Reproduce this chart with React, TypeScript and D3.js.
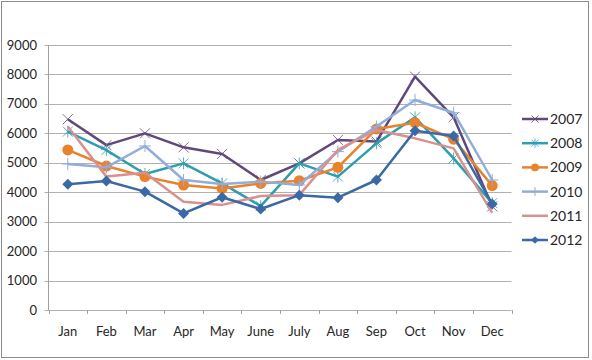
import React, { useEffect, useRef } from 'react';
import * as d3 from 'd3';

const months = ['Jan', 'Feb', 'Mar', 'Apr', 'May', 'June', 'July', 'Aug', 'Sep', 'Oct', 'Nov', 'Dec'];
const yTicks = [0, 1000, 2000, 3000, 4000, 5000, 6000, 7000, 8000, 9000];

const s2007 = [6480, 5600, 6000, 5525, 5300, 4415, 4980, 5775, 5720, 7925, 6545, 3520];
const s2008 = [6060, 5430, 4620, 4980, 4300, 3530, 4980, 4530, 5660, 6545, 5150, 3630];
const s2009 = [5435, 4890, 4530, 4245, 4130, 4300, 4390, 4845, 6150, 6360, 5800, 4225];
const s2010 = [4960, 4845, 5570, 4415, 4280, 4360, 4245, 5380, 6230, 7130, 6700, 4415];
const s2011 = [6230, 4530, 4665, 3680, 3570, 3870, 3900, 5435, 6115, 5830, 5490, 3300];
const s2012 = [4270, 4380, 4020, 3280, 3830, 3430, 3900, 3815, 4415, 6090, 5910, 3600];

const series = [
  { name: '2007', values: s2007, color: '#60497a', marker: 'x' },
  { name: '2008', values: s2008, color: '#2f9db0', marker: 'star' },
  { name: '2009', values: s2009, color: '#e8822d', marker: 'circle' },
  { name: '2010', values: s2010, color: '#93acd8', marker: 'plus' },
  { name: '2011', values: s2011, color: '#d8918f', marker: 'none' },
  { name: '2012', values: s2012, color: '#3a69a6', marker: 'diamond' },
];

// marker shapes, k scales the size (legend uses smaller ones)
function drawMarker(g: any, type: string, x: number, y: number, color: string, k = 1) {
  const a = 5 * k;
  if (type === 'x') {
    g.append('path').attr('d', `M${x - a},${y - a}L${x + a},${y + a}M${x - a},${y + a}L${x + a},${y - a}`)
      .attr('stroke', color).attr('stroke-width', 1).attr('stroke-opacity', 0.8).attr('fill', 'none');
  } else if (type === 'star') {
    g.append('path').attr('d', `M${x - a},${y - a}L${x + a},${y + a}M${x - a},${y + a}L${x + a},${y - a}M${x},${y - a - 1}L${x},${y + a + 1}`)
      .attr('stroke', color).attr('stroke-width', 1).attr('stroke-opacity', 0.8).attr('fill', 'none');
  } else if (type === 'circle') {
    g.append('circle').attr('cx', x).attr('cy', y).attr('r', 5.5 * k).attr('fill', color);
  } else if (type === 'plus') {
    g.append('path').attr('d', `M${x - a - 1},${y}L${x + a + 1},${y}M${x},${y - a - 1}L${x},${y + a + 1}`)
      .attr('stroke', color).attr('stroke-width', 1).attr('fill', 'none');
  } else if (type === 'diamond') {
    g.append('path').attr('d', `M${x},${y - 5.5 * k}L${x + 5.5 * k},${y}L${x},${y + 5.5 * k}L${x - 5.5 * k},${y}Z`).attr('fill', color);
  }
}

export default function App() {
  const ref = useRef<SVGSVGElement>(null);

  useEffect(() => {
    const svg = d3.select(ref.current);
    svg.selectAll('*').remove();
    const font = 'Lato, "Noto Sans", sans-serif';

    svg.append('rect').attr('x', 1.5).attr('y', 1.5).attr('width', 587).attr('height', 356)
      .attr('fill', '#fff').attr('stroke', '#8c8c8c').attr('stroke-width', 1);

    const left = 48.5, right = 511.5, top = 45, bottom = 310;
    const x = d3.scaleBand().domain(months).range([left, right]);
    const y = d3.scaleLinear().domain([0, 9000]).range([bottom, top]);

    const grid = svg.append('g');
    yTicks.forEach(t => {
      grid.append('line').attr('x1', left - 4).attr('x2', right).attr('y1', Math.round(y(t)) + 0.5).attr('y2', Math.round(y(t)) + 0.5)
        .attr('stroke', '#b0b0b0').attr('stroke-width', 1);
      grid.append('text').attr('x', 37).attr('y', y(t)).attr('dy', '0.35em').attr('text-anchor', 'end')
        .attr('font-family', font).attr('font-size', 13).attr('fill', '#262626').text(String(t));
    });
    grid.append('line').attr('x1', left).attr('x2', left).attr('y1', top).attr('y2', bottom)
      .attr('stroke', '#a0a0a0');
    const bounds = months.map(m => x(m) as number).concat([right]);
    bounds.forEach(b => {
      grid.append('line').attr('x1', Math.round(b) + 0.5).attr('x2', Math.round(b) + 0.5).attr('y1', bottom).attr('y2', bottom + 4)
        .attr('stroke', '#a0a0a0');
    });
    months.forEach(m => {
      grid.append('text').attr('x', (x(m) as number) + x.bandwidth() / 2).attr('y', 336).attr('text-anchor', 'middle')
        .attr('font-family', font).attr('font-size', 13).attr('fill', '#262626').text(m);
    });

    const cx = (i: number) => (x(months[i]) as number) + x.bandwidth() / 2;
    const line = d3.line<number>().x((_, i) => cx(i)).y(d => y(d));

    series.forEach(s => {
      const g = svg.append('g');
      g.append('path').datum(s.values).attr('d', line).attr('fill', 'none')
        .attr('stroke', s.color).attr('stroke-width', 2.5).attr('stroke-linejoin', 'round');
      s.values.forEach((v, i) => drawMarker(g, s.marker, cx(i), y(v), s.color));
    });

    const legend = svg.append('g');
    series.forEach((s, i) => {
      const ly = 119 + i * 24.2;
      legend.append('line').attr('x1', 522).attr('x2', 548).attr('y1', ly).attr('y2', ly)
        .attr('stroke', s.color).attr('stroke-width', 2.5);
      drawMarker(legend, s.marker, 535, ly, s.color, 0.7);
      legend.append('text').attr('x', 550).attr('y', ly).attr('dy', '0.35em')
        .attr('font-family', font).attr('font-size', 14).attr('fill', '#262626').text(s.name);
    });
  }, []);

  return (
    <svg ref={ref} width={592} height={360} style={{ position: 'absolute', left: 0, top: 0 }} />
  );
}
